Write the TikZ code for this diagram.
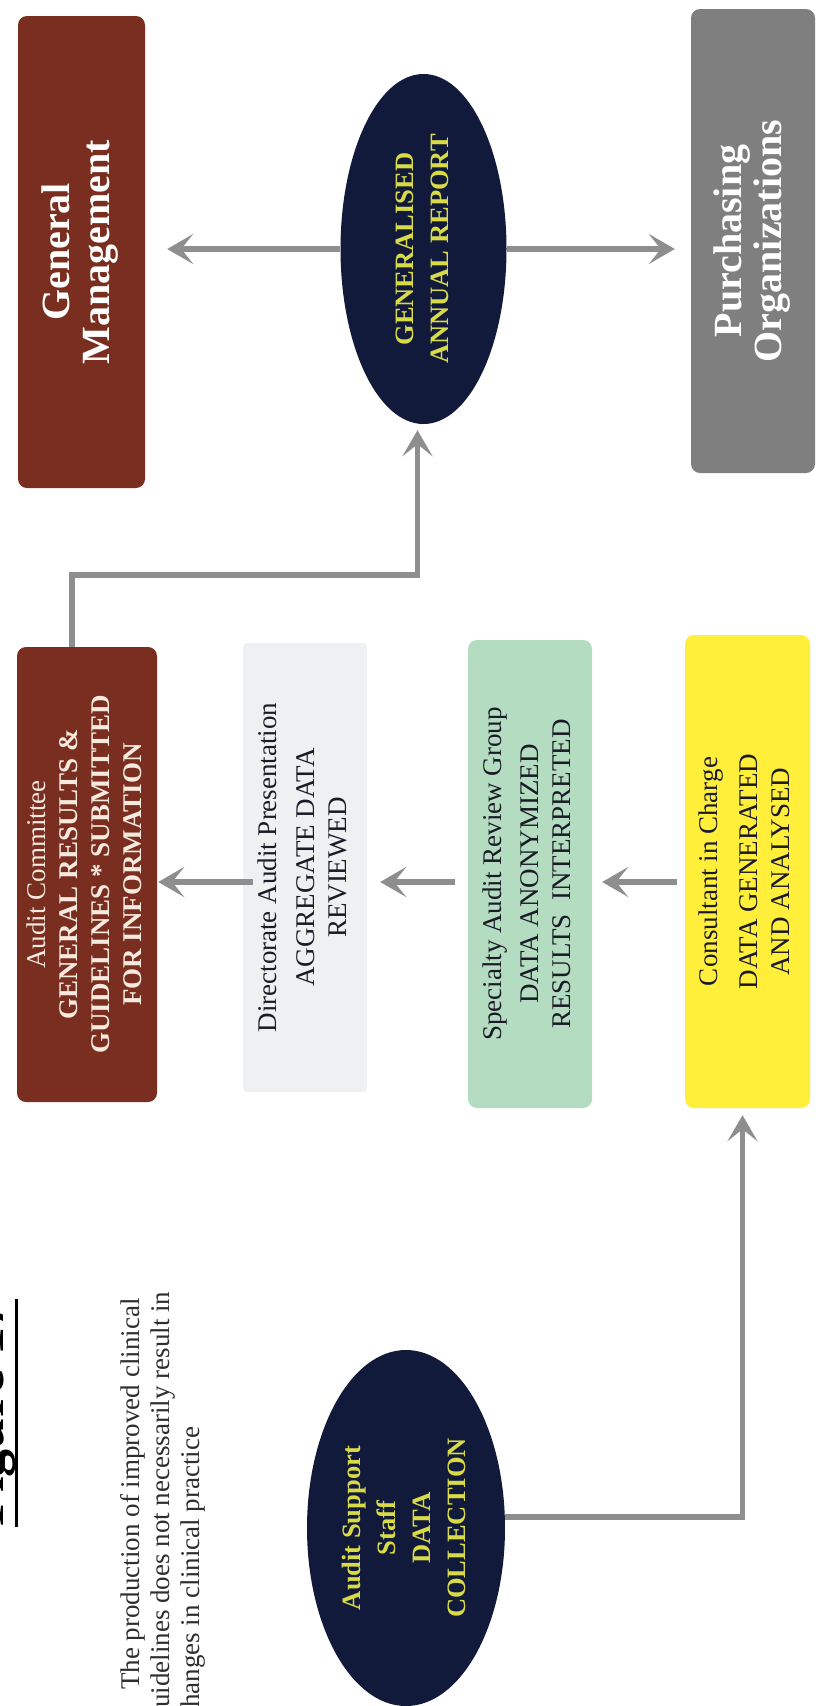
\documentclass[tikz,border=0pt]{standalone}
\usepackage{fontspec}
\setmainfont{Liberation Serif}
\usepackage{graphicx}
\usetikzlibrary{arrows.meta,shapes.geometric,backgrounds}

\definecolor{brownbox}{HTML}{7A2E1F}
\definecolor{navy}{HTML}{111A3A}
\definecolor{grayorg}{HTML}{7F7F7F}
\definecolor{mist}{HTML}{EEF0F2}
\definecolor{mint}{HTML}{B4DCC0}
\definecolor{lemon}{HTML}{FFEE3A}
\definecolor{flow}{HTML}{8E8E8E}
\definecolor{goldtext}{HTML}{D8DA46}
\definecolor{cream}{HTML}{F6EAE0}
\definecolor{ink}{HTML}{1B1B28}
\definecolor{notegray}{HTML}{2E2E2E}

% text set upright in a box, reading from bottom to top
\newcommand{\vlines}[1]{\rotatebox{90}{\begin{tabular}{@{}c@{}}#1\end{tabular}}}

\tikzset{
  card/.style={rectangle, rounded corners=9pt, inner sep=0pt},
  oval/.style={ellipse, fill=navy, inner sep=0pt, text=goldtext,
               font=\fontsize{26.5}{35}\selectfont\bfseries},
  bigtitle/.style={font=\fontsize{40}{40}\selectfont\bfseries, text=white},
  plain/.style={font=\fontsize{27}{32}\selectfont, text=ink},
  flowline/.style={draw=flow, line width=5.5pt,
                   -{Stealth[length=26pt,width=30pt,inset=12pt]}}
}

\begin{document}
\begin{tikzpicture}[x=1pt,y=-1pt]
\useasboundingbox (0,0) rectangle (818,1706);
\clip (0,0) rectangle (818,1706);
\fill[white] (0,0) rectangle (818,1706);

% top row
\node[card, fill=brownbox, bigtitle, minimum width=127pt, minimum height=472pt]
  (gm) at (81.5,252) {\vlines{General\\Management}};
\node[oval, minimum width=166pt, minimum height=350pt]
  (gar) at (423.5,249) {\vlines{GENERALISED\\ANNUAL REPORT}};
\node[card, fill=grayorg, bigtitle, minimum width=124pt, minimum height=464pt]
  (po) at (753,241) {\vlines{Purchasing\\Organizations}};

% middle row
\node[card, fill=brownbox, minimum width=140pt, minimum height=455pt,
      font=\fontsize{27}{32}\selectfont\bfseries, text=cream]
  (ac) at (87,874.5) {\vlines{\mdseries Audit Committee\\GENERAL RESULTS \&\\GUIDELINES * SUBMITTED\\FOR INFORMATION}};
\node[rectangle, rounded corners=4pt, inner sep=0pt, fill=mist, plain,
      minimum width=124pt, minimum height=449pt]
  (dir) at (305,867.5) {\vlines{Directorate Audit Presentation\\[6pt]AGGREGATE DATA\\REVIEWED}};
\node[card, fill=mint, plain, minimum width=124pt, minimum height=468pt]
  (spec) at (530,874) {\vlines{Specialty Audit Review Group\\[5pt]DATA ANONYMIZED\\RESULTS\ \ INTERPRETED}};
\node[card, fill=lemon, plain, minimum width=125pt, minimum height=473pt]
  (cons) at (747.5,871.5) {\vlines{Consultant in Charge\\[8pt]DATA GENERATED\\AND ANALYSED}};

% soft edge round the pale presentation box
\begin{scope}[on background layer]
  \foreach \g/\o in {9/0.25, 6/0.45, 3/0.7}
    \fill[mist, opacity=\o, rounded corners=6pt]
      ([shift={(-\g pt,-\g pt)}]dir.south west) rectangle ([shift={(\g pt,\g pt)}]dir.north east);
\end{scope}

% bottom: heading, note and data collection
\node[rotate=90, anchor=base west, inner sep=0pt,
      font=\fontsize{56}{60}\selectfont\bfseries] (title) at (4,1527) {Figure 17};
\draw[line width=2.5pt] (title.south west) -- (title.south east);
\node[rotate=90, anchor=west, inner sep=0pt, align=left, text=notegray,
      font=\fontsize{27}{30}\selectfont] (note) at (163,1708)
  {\hspace*{18pt}The production of improved clinical\\uidelines does not necessarily result in\\hanges in clinical practice};
\node[oval, minimum width=168pt, minimum height=356pt]
  (ass) at (406,1528) {\vlines{Audit Support\\Staff\\DATA\\COLLECTION}};

% connectors
\coordinate (rowline) at (0,882);
\draw[flowline, shorten >=22pt] (gar.west) -- (gar.west -| gm.east);
\draw[flowline, shorten >=16pt] (gar.east) -- (gar.east -| po.west);
\draw[flowline, shorten >=6pt] ([xshift=-15pt]ac.north) -- ++(0,-72)
  -| ([xshift=-6pt]gar.south);
\draw[flowline, shorten <=-10pt, shorten >=1pt] (dir.west |- rowline) -- (ac.east |- rowline);
\draw[flowline, shorten <=13pt, shorten >=13pt] (spec.west |- rowline) -- (dir.east |- rowline);
\draw[flowline, shorten <=8pt, shorten >=10pt] (cons.west |- rowline) -- (spec.east |- rowline);
\draw[flowline, shorten >=7pt] ([yshift=11pt]ass.east) -| ([xshift=-5pt]cons.south);
\end{tikzpicture}
\end{document}
